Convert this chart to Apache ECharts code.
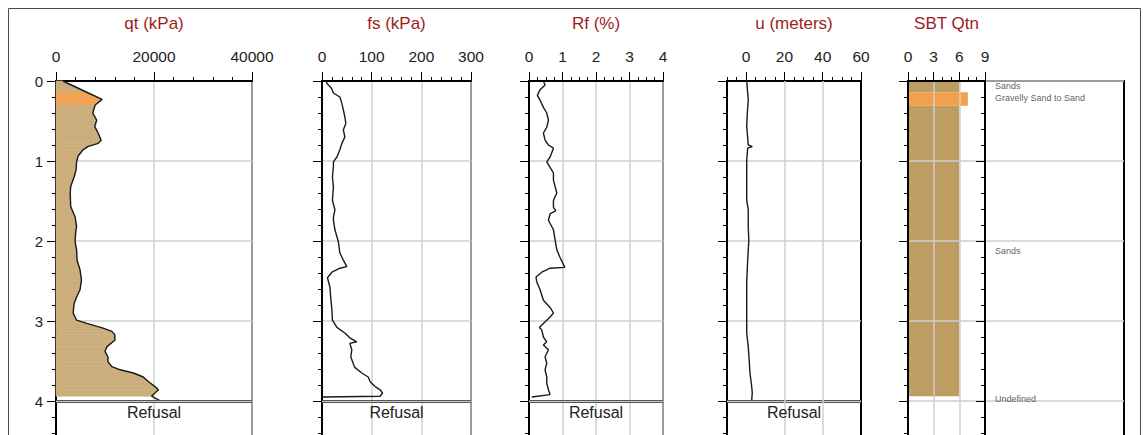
<!DOCTYPE html>
<html><head><meta charset="utf-8">
<script src="https://cdn.jsdelivr.net/npm/echarts@6/dist/echarts.min.js"></script>
<style>html,body{margin:0;padding:0;background:#fff;overflow:hidden}#c{width:1143px;height:490px}</style>
</head><body><div id="c"></div>
<script>
// ---------- data ----------
const panelTitles = ['qt (kPa)', 'fs (kPa)', 'Rf (%)', 'u (meters)', 'SBT Qtn'];
const depthTicks = [0, 1, 2, 3, 4, 5];
const qtTicks = [0, 20000, 40000];
const fsTicks = [0, 100, 200, 300];
const rfTicks = [0, 1, 2, 3, 4];
const uTicks = [0, 20, 40, 60];
const uAxisMin = -10;
const sbtTicks = [0, 3, 6, 9];
const refusalText = 'Refusal';
const refusalDepth = 4;

const qtDepth = [0, 0.15, 0.23, 0.30, 0.40, 0.49, 0.57, 0.65, 0.74, 0.78, 0.82, 0.86, 0.94, 1.01, 1.11, 1.20, 1.32, 1.40, 1.57, 1.70, 1.82, 1.90, 2.01, 2.11, 2.24, 2.36, 2.49, 2.61, 2.70, 2.78, 2.90, 2.99, 3.03, 3.09, 3.13, 3.17, 3.24, 3.32, 3.38, 3.45, 3.51, 3.57, 3.61, 3.65, 3.70, 3.76, 3.82, 3.86, 3.90, 3.94, 4.02];
const qtValue = [1400, 6600, 9400, 8000, 7500, 8300, 7900, 8600, 9200, 8600, 6500, 5500, 4500, 4200, 4100, 3700, 3000, 2900, 3000, 3900, 4200, 4000, 3900, 4200, 4300, 4900, 5200, 4900, 4200, 3700, 3500, 4200, 6300, 9600, 11400, 12000, 12000, 10400, 10000, 10600, 10600, 11400, 13100, 15800, 17800, 18900, 20200, 20900, 20200, 19500, 21900];

const fsDepth = [0, 0.03, 0.09, 0.15, 0.20, 0.28, 0.36, 0.45, 0.53, 0.61, 0.70, 0.78, 0.86, 0.95, 1.01, 1.07, 1.20, 1.32, 1.49, 1.61, 1.70, 1.74, 1.86, 2.01, 2.15, 2.24, 2.32, 2.34, 2.39, 2.46, 2.58, 2.74, 2.86, 2.99, 3.08, 3.15, 3.21, 3.26, 3.28, 3.36, 3.45, 3.58, 3.65, 3.70, 3.76, 3.82, 3.86, 3.90, 3.94, 3.95];
const fsValue = [9, 10, 19, 23, 36, 40, 43, 46, 48, 43, 46, 40, 36, 30, 23, 23, 21, 23, 21, 26, 23, 23, 26, 33, 36, 43, 50, 36, 20, 11, 16, 18, 20, 21, 30, 46, 56, 70, 56, 60, 58, 66, 80, 93, 97, 107, 117, 122, 117, 2];

const rfDepth = [0, 0.05, 0.11, 0.18, 0.24, 0.33, 0.40, 0.49, 0.58, 0.65, 0.74, 0.80, 0.84, 0.95, 1.01, 1.08, 1.15, 1.24, 1.32, 1.40, 1.49, 1.58, 1.62, 1.66, 1.74, 1.86, 1.99, 2.11, 2.21, 2.33, 2.34, 2.39, 2.45, 2.51, 2.61, 2.74, 2.83, 2.90, 2.95, 3.03, 3.08, 3.11, 3.20, 3.26, 3.30, 3.36, 3.45, 3.53, 3.61, 3.70, 3.78, 3.86, 3.92, 3.95];
const rfValue = [0.43, 0.48, 0.33, 0.25, 0.33, 0.43, 0.53, 0.58, 0.53, 0.43, 0.48, 0.58, 0.73, 0.63, 0.53, 0.63, 0.73, 0.73, 0.78, 0.83, 0.73, 0.73, 0.80, 0.63, 0.58, 0.73, 0.78, 0.83, 0.93, 1.07, 0.63, 0.38, 0.21, 0.23, 0.33, 0.43, 0.63, 0.73, 0.63, 0.43, 0.31, 0.38, 0.43, 0.53, 0.43, 0.58, 0.48, 0.53, 0.48, 0.53, 0.53, 0.58, 0.63, 0.08];

const uDepth = [0, 0.24, 0.40, 0.57, 0.80, 0.82, 0.84, 0.99, 1.24, 1.49, 1.61, 1.82, 1.99, 2.24, 2.52, 2.99, 3.15, 3.32, 3.49, 3.65, 3.82, 3.90, 3.99];
const uValue = [0.3, 1.1, 0.6, 0.3, 1.1, 3.2, 0.8, 0.3, 0.3, 0.3, 1.1, 1.1, 1.4, 0.8, 0.3, 0.3, 0.3, 1.1, 1.6, 2.0, 2.9, 3.2, 2.9];

const sbtZoneTop = [0, 0.14, 0.31];
const sbtZoneBottom = [0.14, 0.31, 3.94];
const sbtZoneQtn = [6, 7, 6];
const sbtZoneType = ['Sands', 'Gravelly Sand to Sand', 'Sands'];
const sbtLabelText = ['Sands', 'Gravelly Sand to Sand', 'Sands', 'Undefined'];
const sbtLabelDepth = [0.06, 0.21, 2.13, 3.97];

// ---------- styles / layout ----------
const SANS = "'Liberation Sans',Arial,sans-serif";
const zoneColor = { 'Sands': '#BE9D63', 'Gravelly Sand to Sand': '#F2A04E' };
const qtFillColor = { 'Sands': '#CBAE7C', 'Gravelly Sand to Sand': '#F2A452' };
const GRID_TOP = 81, GRID_H = 400;
const gridBoxes = [
  { left: 56, width: 196 }, { left: 322, width: 149 }, { left: 529, width: 134 },
  { left: 727, width: 134 }, { left: 908, width: 77 }, { left: 985, width: 139 }
];
const gridLineStyle = { color: '#cfcfcf', width: 1.5 };

function zoneAt(d) {
  for (let i = 0; i < sbtZoneTop.length; i++) if (d >= sbtZoneTop[i] && d < sbtZoneBottom[i]) return sbtZoneType[i];
  return null;
}

const grids = gridBoxes.map(b => ({
  left: b.left, width: b.width, top: GRID_TOP, height: GRID_H,
  show: true, borderColor: '#000', borderWidth: 2, backgroundColor: 'transparent'
}));

const tickLabelStyle = { margin: 17, fontSize: 15.5, fontFamily: SANS, color: '#222' };

function xAxisCfg(gi, ticks, minorSplit, extra) {
  return Object.assign({
    gridIndex: gi, type: 'value', position: 'top',
    min: ticks[0], max: ticks[ticks.length - 1], interval: ticks[1] - ticks[0],
    axisLine: { show: true, onZero: false, lineStyle: { color: '#000', width: 2 } },
    axisTick: { show: true, length: 9, lineStyle: { color: '#000', width: 1 } },
    minorTick: { show: true, splitNumber: minorSplit, length: 4, lineStyle: { color: '#000', width: 1 } },
    axisLabel: Object.assign({ show: true, formatter: v => String(v) }, tickLabelStyle),
    splitLine: { show: true, lineStyle: gridLineStyle },
    minorSplitLine: { show: false }
  }, extra || {});
}

const xAxes = [
  xAxisCfg(0, qtTicks, 5),
  xAxisCfg(1, fsTicks, 5),
  xAxisCfg(2, rfTicks, 4),
  {
    gridIndex: 3, type: 'value', position: 'top', min: uAxisMin, max: uTicks[uTicks.length - 1], interval: 5,
    axisLine: { show: true, onZero: false, lineStyle: { color: '#000', width: 2 } },
    axisTick: { show: true, length: 4, lineStyle: { color: '#000', width: 1 } },
    axisLabel: { show: false }, splitLine: { show: false }
  },
  {
    gridIndex: 3, type: 'value', position: 'top', min: uAxisMin, max: uTicks[uTicks.length - 1], interval: 5,
    axisLine: { show: false, onZero: false },
    axisTick: { show: true, length: 9, customValues: uTicks, lineStyle: { color: '#000', width: 1 } },
    axisLabel: Object.assign({ show: true, customValues: uTicks,
      formatter: v => uTicks.includes(v) ? String(v) : '' }, tickLabelStyle),
    splitLine: { show: false }
  },
  xAxisCfg(4, sbtTicks, 3),
  { gridIndex: 5, type: 'value', min: 0, max: 1, show: false }
];

const yAxes = gridBoxes.map((b, i) => ({
  gridIndex: i, type: 'value', inverse: true,
  min: depthTicks[0], max: depthTicks[depthTicks.length - 1], interval: depthTicks[1] - depthTicks[0],
  axisLine: { show: true, onZero: false, lineStyle: { color: '#000', width: 2 } },
  axisTick: { show: true, length: 9, lineStyle: { color: '#000', width: 1 } },
  minorTick: { show: true, splitNumber: 5, length: 4, lineStyle: { color: '#000', width: 1 } },
  axisLabel: { show: i === 0, margin: 13, fontSize: 15, fontFamily: SANS, color: '#222',
    formatter: v => (v <= refusalDepth ? String(v) : '') },
  splitLine: { show: true, lineStyle: gridLineStyle }
}));

function pairs(ds, vs) { return ds.map((d, i) => [vs[i], d]); }

function refusalLines() {
  return [
    { yAxis: refusalDepth, lineStyle: { color: '#555', width: 3, type: 'solid' },
      label: { show: true, formatter: refusalText, position: 'insideMiddleBottom', distance: 3,
        fontSize: 16, fontFamily: SANS, color: '#222' } },
    { yAxis: refusalDepth, lineStyle: { color: '#c9c9c9', width: 1, type: 'solid' }, label: { show: false } }
  ];
}
function mk(data) {
  return { silent: true, symbol: 'none', animation: false, data: data, label: { show: false } };
}

function lineSeries(xi, yi, ds, vs, extraMark) {
  return {
    type: 'line', xAxisIndex: xi, yAxisIndex: yi, data: pairs(ds, vs),
    symbol: 'none', showSymbol: false, smooth: false, clip: false,
    lineStyle: { color: '#1a1a1a', width: 1.4 }, z: 3,
    markLine: mk(refusalLines().concat(extraMark || []))
  };
}

const fillBottom = sbtZoneBottom[sbtZoneBottom.length - 1];
const qtFillData = [];
for (let i = 0; i < qtDepth.length - 1; i++) {
  if (qtDepth[i + 1] > fillBottom + 1e-9) break;
  qtFillData.push([qtValue[i], qtDepth[i], qtValue[i + 1], qtDepth[i + 1]]);
}

const series = [
  {
    type: 'custom', xAxisIndex: 0, yAxisIndex: 0, data: qtFillData, z: 2, silent: true,
    renderItem: function (params, api) {
      const v1 = api.value(0), d1 = api.value(1), v2 = api.value(2), d2 = api.value(3);
      const col = qtFillColor[zoneAt((d1 + d2) / 2)] || qtFillColor['Sands'];
      return {
        type: 'polygon',
        shape: { points: [api.coord([0, d1]), api.coord([v1, d1]), api.coord([v2, d2]), api.coord([0, d2])] },
        style: { fill: col, stroke: col, lineWidth: 0.6 }
      };
    }
  },
  lineSeries(0, 0, qtDepth, qtValue),
  lineSeries(1, 1, fsDepth, fsValue),
  lineSeries(2, 2, rfDepth, rfValue),
  lineSeries(3, 3, uDepth, uValue,
    uTicks.slice(1, -1).map(v => ({ xAxis: v, lineStyle: { color: gridLineStyle.color, width: gridLineStyle.width, type: 'solid' }, label: { show: false } }))),
  {
    type: 'custom', xAxisIndex: 5, yAxisIndex: 4, z: -1, silent: true,
    data: sbtZoneTop.map((t, i) => [sbtZoneQtn[i], t, sbtZoneBottom[i], i]),
    renderItem: function (params, api) {
      const p0 = api.coord([0, api.value(1)]);
      const p1 = api.coord([api.value(0), api.value(2)]);
      const col = zoneColor[sbtZoneType[api.value(3)]];
      return { type: 'rect', shape: { x: p0[0], y: p0[1], width: p1[0] - p0[0], height: p1[1] - p0[1] },
        style: { fill: col } };
    }
  },
  {
    type: 'scatter', xAxisIndex: 6, yAxisIndex: 5, symbolSize: 0, silent: true,
    data: sbtLabelText.map((t, i) => ({ name: t, value: [0, sbtLabelDepth[i]] })),
    label: { show: true, position: 'right', distance: 10, formatter: '{b}', fontSize: 9, fontFamily: SANS, color: '#333' }
  }
];

const graphics = [
  { type: 'rect', shape: { x: 8.5, y: 8.5, width: 1132, height: 470 }, style: { fill: 'none', stroke: '#4a4a4a', lineWidth: 1 }, z: -10, silent: true }
].concat(panelTitles.map((t, i) => ({
  type: 'text', x: gridBoxes[i].left + gridBoxes[i].width / 2, y: 23, silent: true,
  style: { text: t, fill: '#9b1d1d', fontSize: 17, fontFamily: SANS, align: 'center', verticalAlign: 'middle',
    textAlign: 'center', textVerticalAlign: 'middle' }
})));

const chart = echarts.init(document.getElementById('c'), null, { renderer: 'svg', width: 1143, height: 490 });
chart.setOption({
  animation: false,
  backgroundColor: '#fff',
  grid: grids, xAxis: xAxes, yAxis: yAxes, series: series, graphic: graphics
});
</script></body></html>
